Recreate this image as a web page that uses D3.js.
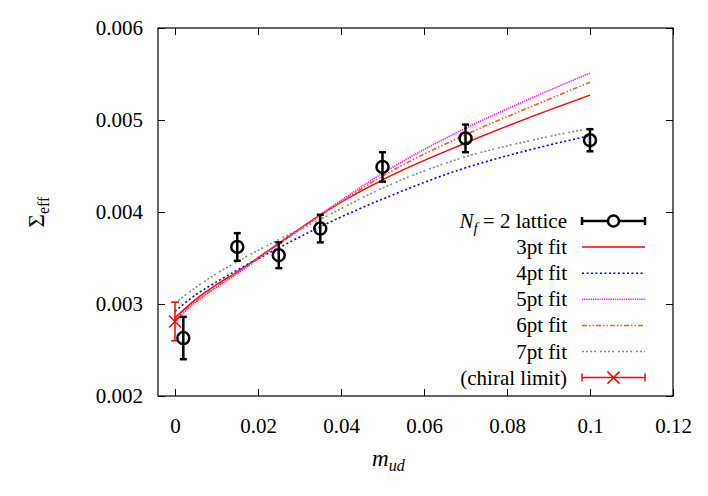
<!DOCTYPE html>
<html>
<head>
<meta charset="utf-8">
<script src="https://cdn.jsdelivr.net/npm/d3@7"></script>
<style>
  svg text, svg tspan { font-family: "Times New Roman", "Liberation Serif", Tinos, serif !important; }
</style>
</head>
<body style="margin:0; background:#fff; overflow:hidden">
<script>
// lattice data points
const latX = [0.002, 0.015, 0.025, 0.035, 0.05, 0.07, 0.1]
const latY = [0.00263, 0.00362, 0.00353, 0.00382, 0.00449, 0.00480, 0.00478]
const latErr = [0.00023, 0.00015, 0.00014, 0.00015, 0.00016, 0.00015, 0.00012]

// chiral limit
const chiX = [0]
const chiY = [0.00281]
const chiErr = [0.00021]

// fit curves
const fitX = [0, 0.005, 0.01, 0.015, 0.025, 0.035, 0.05, 0.07, 0.085, 0.1]
const fit3 = [0.00285, 0.00305, 0.00321, 0.00335, 0.00366, 0.00397, 0.00435, 0.00475, 0.00502, 0.00527]
const fit4 = [0.00292, 0.00310, 0.00324, 0.00337, 0.00361, 0.00384, 0.00414, 0.00448, 0.00467, 0.00483]
const fit5 = [0.00282, 0.00302, 0.00318, 0.00333, 0.00365, 0.00397, 0.00442, 0.00491, 0.00522, 0.00551]
const fit6 = [0.00283, 0.00303, 0.00319, 0.00334, 0.00365, 0.00396, 0.00439, 0.00484, 0.00513, 0.00541]
const fit7 = [0.00301, 0.00318, 0.00333, 0.00346, 0.00370, 0.00392, 0.00426, 0.00460, 0.00477, 0.00491]

const xTicks = [0, 0.02, 0.04, 0.06, 0.08, 0.1, 0.12]
const yTicks = [0.002, 0.003, 0.004, 0.005, 0.006]

const fits = [
    { name: '3pt fit', vals: fit3, color: '#ff0000', dash: null },
    { name: '4pt fit', vals: fit4, color: '#0000ff', dash: '2,2.5' },
    { name: '5pt fit', vals: fit5, color: '#ff00ff', dash: '1.2,1' },
    { name: '6pt fit', vals: fit6, color: '#ff5a1a', dash: '5,2,1.5,2,1.5,2' },
    { name: '7pt fit', vals: fit7, color: '#888888', dash: '2,2,2,2,2,2,2,4' }
]

const FONT = '"Times New Roman", "Liberation Serif", serif'
const width = 708, height = 496
const margins = { top: 28, right: 35, bottom: 100, left: 158 }
const innerWidth = width - margins.left - margins.right
const innerHeight = height - margins.top - margins.bottom

const svg = d3.select('body')
    .append('svg')
    .attr('width', width)
    .attr('height', height)
    .attr('style', `display:block; font-family:${FONT}`)

const g = svg.append('g')
    .attr('transform', `translate(${margins.left}, ${margins.top})`)

const xScale = d3.scaleLinear()
    .domain([-0.0041, 0.12])
    .range([0, innerWidth])

const yScale = d3.scaleLinear()
    .domain([0.002, 0.006])
    .range([innerHeight, 0])

const fmt = d => d === 0 ? '0' : String(+d.toFixed(3))

// every text gets the serif face
const serif = (sel, size) => sel
    .attr('font-family', FONT)
    .attr('font-size', size)
    .attr('style', `font-family:${FONT}; font-size:${size}px`)

// axes, ticks pointing inward on all four sides
const xAxis = g.append('g')
    .attr('transform', `translate(0, ${innerHeight})`)
    .call(d3.axisBottom(xScale).tickValues(xTicks).tickSize(-7).tickPadding(22).tickFormat(fmt))
g.append('g')
    .call(d3.axisTop(xScale).tickValues(xTicks).tickSize(-7).tickFormat(''))
const yAxis = g.append('g')
    .call(d3.axisLeft(yScale).tickValues(yTicks).tickSize(-7).tickPadding(15).tickFormat(d => d.toFixed(3)))
g.append('g')
    .attr('transform', `translate(${innerWidth}, 0)`)
    .call(d3.axisRight(yScale).tickValues(yTicks).tickSize(-7).tickFormat(''))

g.selectAll('g').attr('font-family', FONT)
serif(xAxis.selectAll('text'), 21).attr('fill', '#000')
serif(yAxis.selectAll('text'), 21).attr('fill', '#000')
g.selectAll('.domain').remove()
g.selectAll('.tick line').attr('stroke', '#000').attr('stroke-width', 1)

g.append('rect')
    .attr('width', innerWidth)
    .attr('height', innerHeight)
    .attr('fill', 'none')
    .attr('stroke', '#000')
    .attr('stroke-width', 1.2)

// axis labels
const xl = serif(svg.append('text').attr('x', 372).attr('y', 466), 23)
xl.append('tspan').attr('font-style', 'italic').text('m')
serif(xl.append('tspan').attr('dy', 5), 16).attr('font-style', 'italic').text('ud')

const yl = serif(svg.append('text')
    .attr('transform', 'translate(44, 212) rotate(-90)')
    .attr('text-anchor', 'middle'), 23)
yl.append('tspan').text('Σ')
serif(yl.append('tspan').attr('dy', 5), 16).text('eff')

// fit curves
const line = d3.line()
    .x(d => xScale(d[0]))
    .y(d => yScale(d[1]))
    .curve(d3.curveMonotoneX)

g.selectAll('.fitLine')
    .data(fits)
    .join('path')
    .attr('class', 'fitLine')
    .attr('fill', 'none')
    .attr('stroke', d => d.color)
    .attr('stroke-width', d => d.dash ? 1.6 : 1.5)
    .attr('stroke-dasharray', d => d.dash)
    .attr('d', d => line(fitX.map((x, i) => [x, d.vals[i]])))

// chiral limit point
const chi = chiX.map((x, i) => ({ x, y: chiY[i], e: chiErr[i] }))
const chiG = g.selectAll('.chi').data(chi).join('g').attr('stroke', '#ff0000').attr('stroke-width', 1.5)
chiG.append('line')
    .attr('x1', d => xScale(d.x)).attr('x2', d => xScale(d.x))
    .attr('y1', d => yScale(d.y - d.e)).attr('y2', d => yScale(d.y + d.e))
chiG.append('line')
    .attr('x1', d => xScale(d.x) - 4).attr('x2', d => xScale(d.x) + 4)
    .attr('y1', d => yScale(d.y - d.e)).attr('y2', d => yScale(d.y - d.e))
chiG.append('line')
    .attr('x1', d => xScale(d.x) - 4).attr('x2', d => xScale(d.x) + 4)
    .attr('y1', d => yScale(d.y + d.e)).attr('y2', d => yScale(d.y + d.e))
chiG.append('path')
    .attr('d', d => {
        const cx = xScale(d.x), cy = yScale(d.y)
        return `M${cx - 6},${cy - 6}L${cx + 6},${cy + 6}M${cx - 6},${cy + 6}L${cx + 6},${cy - 6}`
    })

// lattice points
const lat = latX.map((x, i) => ({ x, y: latY[i], e: latErr[i] }))
const latG = g.selectAll('.lat').data(lat).join('g').attr('stroke', '#000').attr('stroke-width', 2.5).attr('fill', 'none')
latG.append('line')
    .attr('x1', d => xScale(d.x)).attr('x2', d => xScale(d.x))
    .attr('y1', d => yScale(d.y - d.e)).attr('y2', d => yScale(d.y + d.e))
latG.append('line')
    .attr('x1', d => xScale(d.x) - 3.5).attr('x2', d => xScale(d.x) + 3.5)
    .attr('y1', d => yScale(d.y - d.e)).attr('y2', d => yScale(d.y - d.e))
latG.append('line')
    .attr('x1', d => xScale(d.x) - 3.5).attr('x2', d => xScale(d.x) + 3.5)
    .attr('y1', d => yScale(d.y + d.e)).attr('y2', d => yScale(d.y + d.e))
latG.append('circle')
    .attr('cx', d => xScale(d.x))
    .attr('cy', d => yScale(d.y))
    .attr('r', 6)

// legend
const legTextX = 567, legX1 = 582, legX2 = 645, legY0 = 221, legStep = 26.1
const legMid = (legX1 + legX2) / 2
const leg = svg.append('g').attr('font-family', FONT)

const row = i => serif(leg.append('text')
    .attr('x', legTextX)
    .attr('y', legY0 + i * legStep + 7)
    .attr('text-anchor', 'end')
    .attr('fill', '#000'), 21)

const r0 = row(0)
r0.append('tspan').attr('font-style', 'italic').text('N')
serif(r0.append('tspan').attr('dy', 5), 15).attr('font-style', 'italic').text('f')
r0.append('tspan').attr('dy', -5).text(' = 2 lattice')
leg.append('line')
    .attr('x1', legX1).attr('x2', legX2).attr('y1', legY0).attr('y2', legY0)
    .attr('stroke', '#000').attr('stroke-width', 2.5)
;[legX1, legX2].forEach(x => leg.append('line')
    .attr('x1', x).attr('x2', x).attr('y1', legY0 - 4).attr('y2', legY0 + 4)
    .attr('stroke', '#000').attr('stroke-width', 2.5))
leg.append('circle')
    .attr('cx', legMid).attr('cy', legY0).attr('r', 5.5)
    .attr('fill', '#fff').attr('stroke', '#000').attr('stroke-width', 2.5)

fits.forEach((f, k) => {
    const y = legY0 + (k + 1) * legStep
    row(k + 1).text(f.name)
    leg.append('line')
        .attr('x1', legX1).attr('x2', legX2).attr('y1', y).attr('y2', y)
        .attr('stroke', f.color).attr('stroke-width', 1.5)
        .attr('stroke-dasharray', f.dash)
})

const yc = legY0 + 6 * legStep
row(6).text('(chiral limit)')
leg.append('line')
    .attr('x1', legX1).attr('x2', legX2).attr('y1', yc).attr('y2', yc)
    .attr('stroke', '#ff0000').attr('stroke-width', 1.5)
;[legX1, legX2].forEach(x => leg.append('line')
    .attr('x1', x).attr('x2', x).attr('y1', yc - 4).attr('y2', yc + 4)
    .attr('stroke', '#ff0000').attr('stroke-width', 1.5))
leg.append('path')
    .attr('d', `M${legMid - 6},${yc - 6}L${legMid + 6},${yc + 6}M${legMid - 6},${yc + 6}L${legMid + 6},${yc - 6}`)
    .attr('stroke', '#ff0000').attr('stroke-width', 1.5)
</script>
</body>
</html>
